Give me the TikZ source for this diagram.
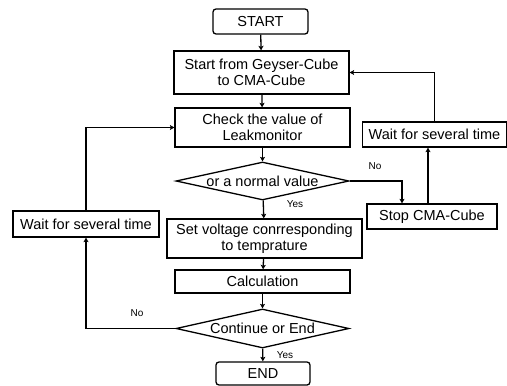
\documentclass[tikz,border=0pt]{standalone}
\usepackage{fontspec}
\setmainfont{Liberation Sans}
\usetikzlibrary{shapes.geometric,arrows.meta}
\begin{document}
\begin{tikzpicture}[x=1pt,y=-1pt,
  box/.style={draw,line width=1.3pt,inner sep=0pt,align=center,font=\fontsize{14.5}{16}\selectfont},
  dia/.style={draw,diamond,line width=1.3pt,inner sep=0pt,font=\fontsize{14.5}{16}\selectfont},
  arr/.style={line width=1.3pt,-{Stealth[length=4.5pt,width=5pt,inset=1pt]}},
  lbl/.style={font=\fontsize{10}{11}\selectfont,inner sep=0pt}]
\useasboundingbox[fill=white] (0,0) rectangle (507,386);
\node[box,rounded corners=3pt,minimum width=95pt,minimum height=25pt] (start) at (260.5,21.5) {START};
\node[box,minimum width=175pt,minimum height=43pt] (from) at (261.5,72.5) {Start from Geyser-Cube\\to CMA-Cube};
\node[box,minimum width=175pt,minimum height=39pt] (check) at (262.5,127.5) {Check the value of\\Leakmonitor};
\node[dia,minimum width=173pt,minimum height=38pt] (d1) at (262.5,181) {\makebox[0pt]{or a normal value}};
\node[box,minimum width=195pt,minimum height=39pt] (set) at (264.5,238.5) {Set voltage conrresponding\\to temprature};
\node[box,minimum width=175pt,minimum height=23pt] (calc) at (262.5,281.5) {Calculation};
\node[dia,minimum width=173pt,minimum height=39pt] (d2) at (262.5,328.5) {\makebox[0pt]{Continue or End}};
\node[box,rounded corners=3pt,minimum width=94pt,minimum height=23pt] (end) at (263,373.5) {END};
\node[box,minimum width=144pt,minimum height=25pt] (waitr) at (434.5,134.5) {Wait for several time};
\node[box,minimum width=130pt,minimum height=25pt] (stop) at (432,216.5) {Stop CMA-Cube};
\node[box,minimum width=146pt,minimum height=26pt] (waitl) at (86,224) {Wait for several time};

\draw[arr] (start) -- (from);
\draw[arr] (from) -- (check);
\draw[arr] (check) -- (d1);
\draw[arr] (d1) -- (set);
\draw[arr] (set) -- (calc);
\draw[arr] (calc) -- (d2);
\draw[arr] (d2) -- (end);
\draw[arr] (d1.east) -| ([xshift=-30pt]stop.north);
\draw[arr] ([xshift=-4pt]stop.north) -- ([xshift=-4pt]stop.north |- waitr.south);
\draw[arr] (waitr.north) |- (from.east);
\draw[arr] (d2.west) -| (waitl.south);
\draw[arr] (waitl.north) |- (check.west);

\node[lbl] (no1) at (375,166) {No};
\node[lbl] (yes1) at (295,204) {Yes};
\node[lbl] (no2) at (137,313) {No};
\node[lbl] (yes2) at (285,355) {Yes};
\end{tikzpicture}
\end{document}
